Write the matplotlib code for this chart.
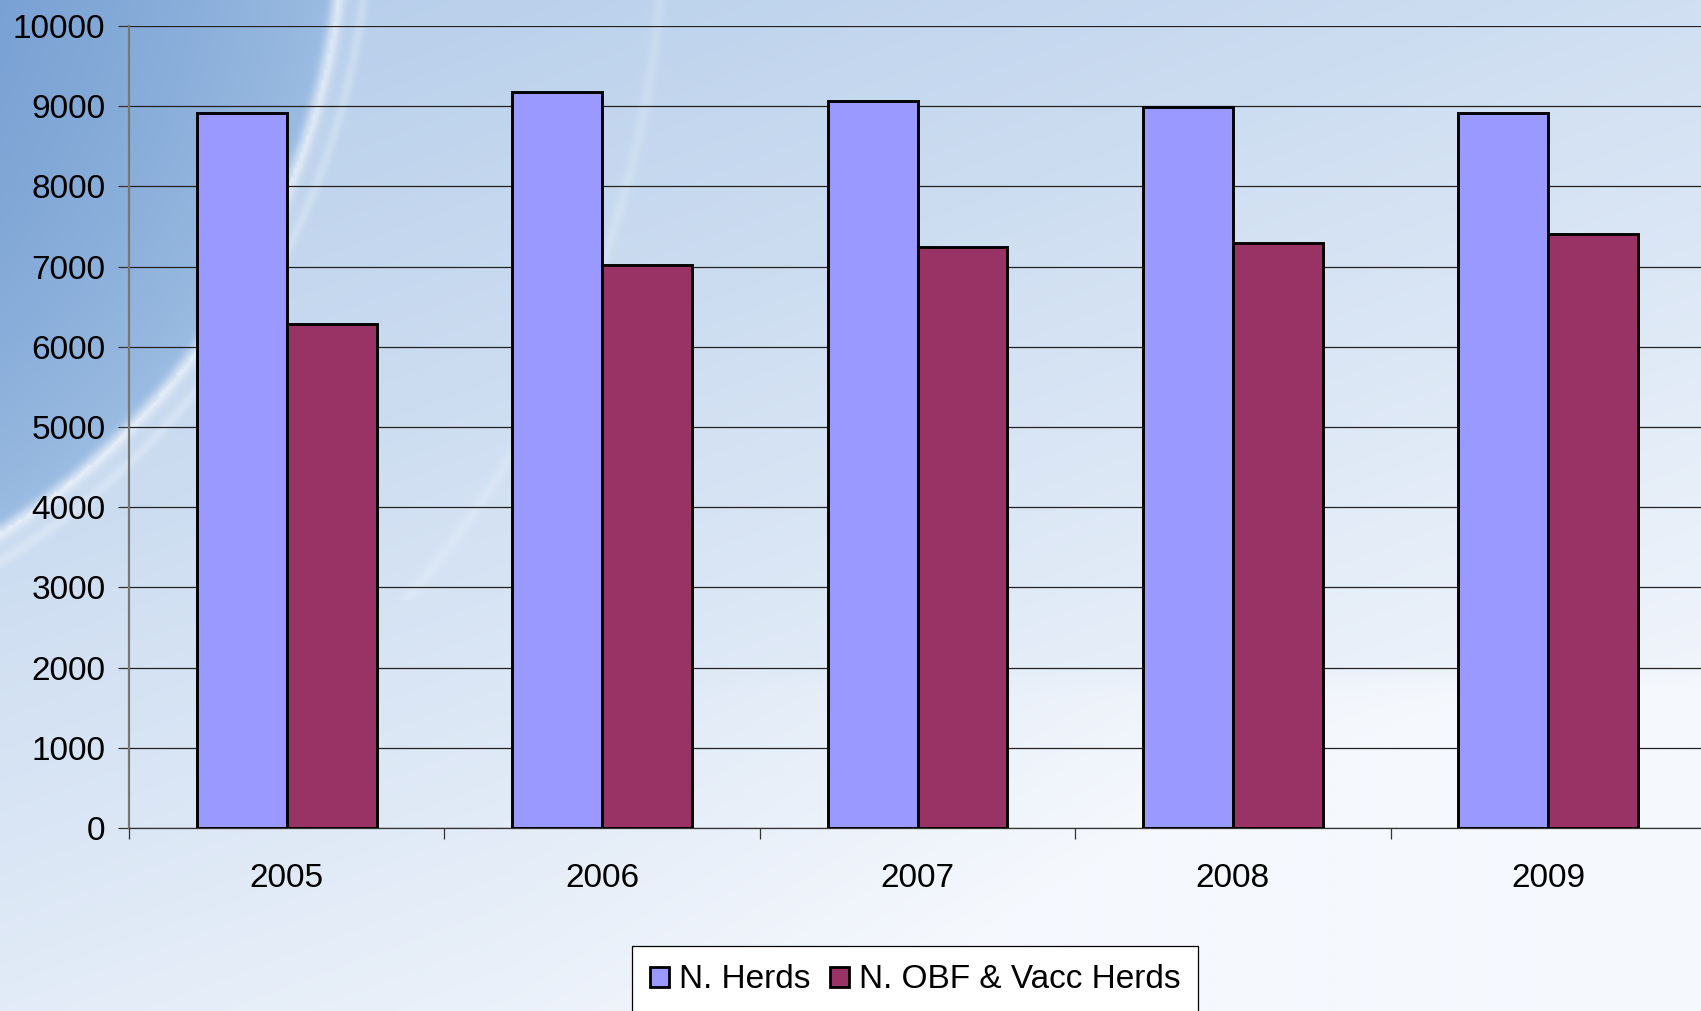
import numpy as np
import matplotlib
matplotlib.use("Agg")
import matplotlib.pyplot as plt
from matplotlib.patches import Patch

years = ["2005", "2006", "2007", "2008", "2009"]
herds = [8910, 9180, 9060, 8995, 8910]
obf_vacc = [6290, 7015, 7250, 7290, 7405]
series_names = ["N. Herds", "N. OBF & Vacc Herds"]
yticks = [0, 1000, 2000, 3000, 4000, 5000, 6000, 7000, 8000, 9000, 10000]

plt.rcParams['font.family'] = ['Liberation Sans', 'DejaVu Sans']

W, H = 1701, 1011
fig = plt.figure(figsize=(W / 100, H / 100), dpi=100)

# ---- decorative background (slide template style) ----
bg = fig.add_axes([0, 0, 1, 1], zorder=-10)
py, px = np.mgrid[0:H:3, 0:W:3].astype(float)
u, v = px / W, py / H


def hexrgb(h):
    return np.array([int(h[i:i + 2], 16) for i in (1, 3, 5)]) / 255.0


A, B = hexrgb("#b2cbe9"), hexrgb("#f5f8fd")
s = np.clip(0.45 * u + 0.72 * v, 0, 1)
s = s + 0.12 * (1 / (1 + np.exp(-(py - 680) / 6))) * np.clip((u - 0.3) / 0.4, 0, 1)
s = np.clip(s, 0, 1)
img = A * (1 - s[..., None]) + B * s[..., None]

cx, cy, R = -400.0, -95.0, 742.0
d = np.sqrt((px - cx) ** 2 + (py - cy) ** 2)
inside = d < R
C0, C1 = hexrgb("#6c96cd"), hexrgb("#9bbce2")
k = np.clip(d / R, 0, 1) ** 2
inner = C0 * (1 - k[..., None]) + C1 * k[..., None]
img = np.where(inside[..., None], inner, img)
white = np.ones(3)
a1 = 0.55 * np.exp(-((d - R) / 7) ** 2)
a2 = 0.25 * np.exp(-((d - R - 25) / 5) ** 2)
a3 = 0.18 * np.exp(-((d - R - 320) / 6) ** 2) * (py < 600)
alpha = np.clip(a1 + a2 + a3, 0, 1)[..., None]
img = img * (1 - alpha) + white * alpha
bg.imshow(img, aspect='auto', extent=[0, 1, 0, 1], origin='upper',
          interpolation='bilinear')
bg.axis('off')

# ---- chart ----
left = 129 / W
bottom = (H - 828) / H
top = (H - 26) / H
right = 1706 / W
ax = fig.add_axes([left, bottom, right - left, top - bottom])
ax.patch.set_alpha(0)

x = np.arange(len(years))
bw = 0.285
ax.bar(x - bw / 2, herds, width=bw, color="#9999FF", edgecolor="black",
       linewidth=2.1, zorder=3, label=series_names[0])
ax.bar(x + bw / 2, obf_vacc, width=bw, color="#993366", edgecolor="black",
       linewidth=2.1, zorder=3, label=series_names[1])

ax.set_xlim(-0.5, len(years) - 0.5)
ax.set_ylim(0, 10000)
ax.set_yticks(yticks)
ax.set_yticklabels([str(v) for v in yticks])
ax.yaxis.grid(True, color="#222222", linewidth=0.9, zorder=0)
ax.set_axisbelow(True)

ax.set_xticks(x)
ax.set_xticklabels(years)
ax.set_xticks(np.arange(len(years) + 1) - 0.5, minor=True)
ax.tick_params(axis='x', which='major', length=0, pad=25, labelsize=24)
ax.tick_params(axis='x', which='minor', length=8, width=0.9, color="#333333")
ax.tick_params(axis='y', length=8, width=0.9, color="#333333", pad=9, labelsize=24)

for s_ in ['top', 'right']:
    ax.spines[s_].set_visible(False)
ax.spines['left'].set_color("#777777")
ax.spines['left'].set_linewidth(1.6)
ax.spines['bottom'].set_color("#333333")
ax.spines['bottom'].set_linewidth(0.9)

handles = [Patch(facecolor="#9999FF", edgecolor="black", linewidth=2.0),
           Patch(facecolor="#993366", edgecolor="black", linewidth=2.0)]
leg = fig.legend(handles, series_names, loc='upper left',
                 bbox_to_anchor=(632 / W, (H - 946) / H), ncol=2,
                 fontsize=24, frameon=True, fancybox=False, framealpha=1,
                 edgecolor="black", facecolor="white",
                 handlelength=0.55, handleheight=0.55, handletextpad=0.3,
                 columnspacing=0.6, borderpad=0.55, borderaxespad=0)
leg.get_frame().set_linewidth(0.9)

fig.savefig("out.png", dpi=100)
